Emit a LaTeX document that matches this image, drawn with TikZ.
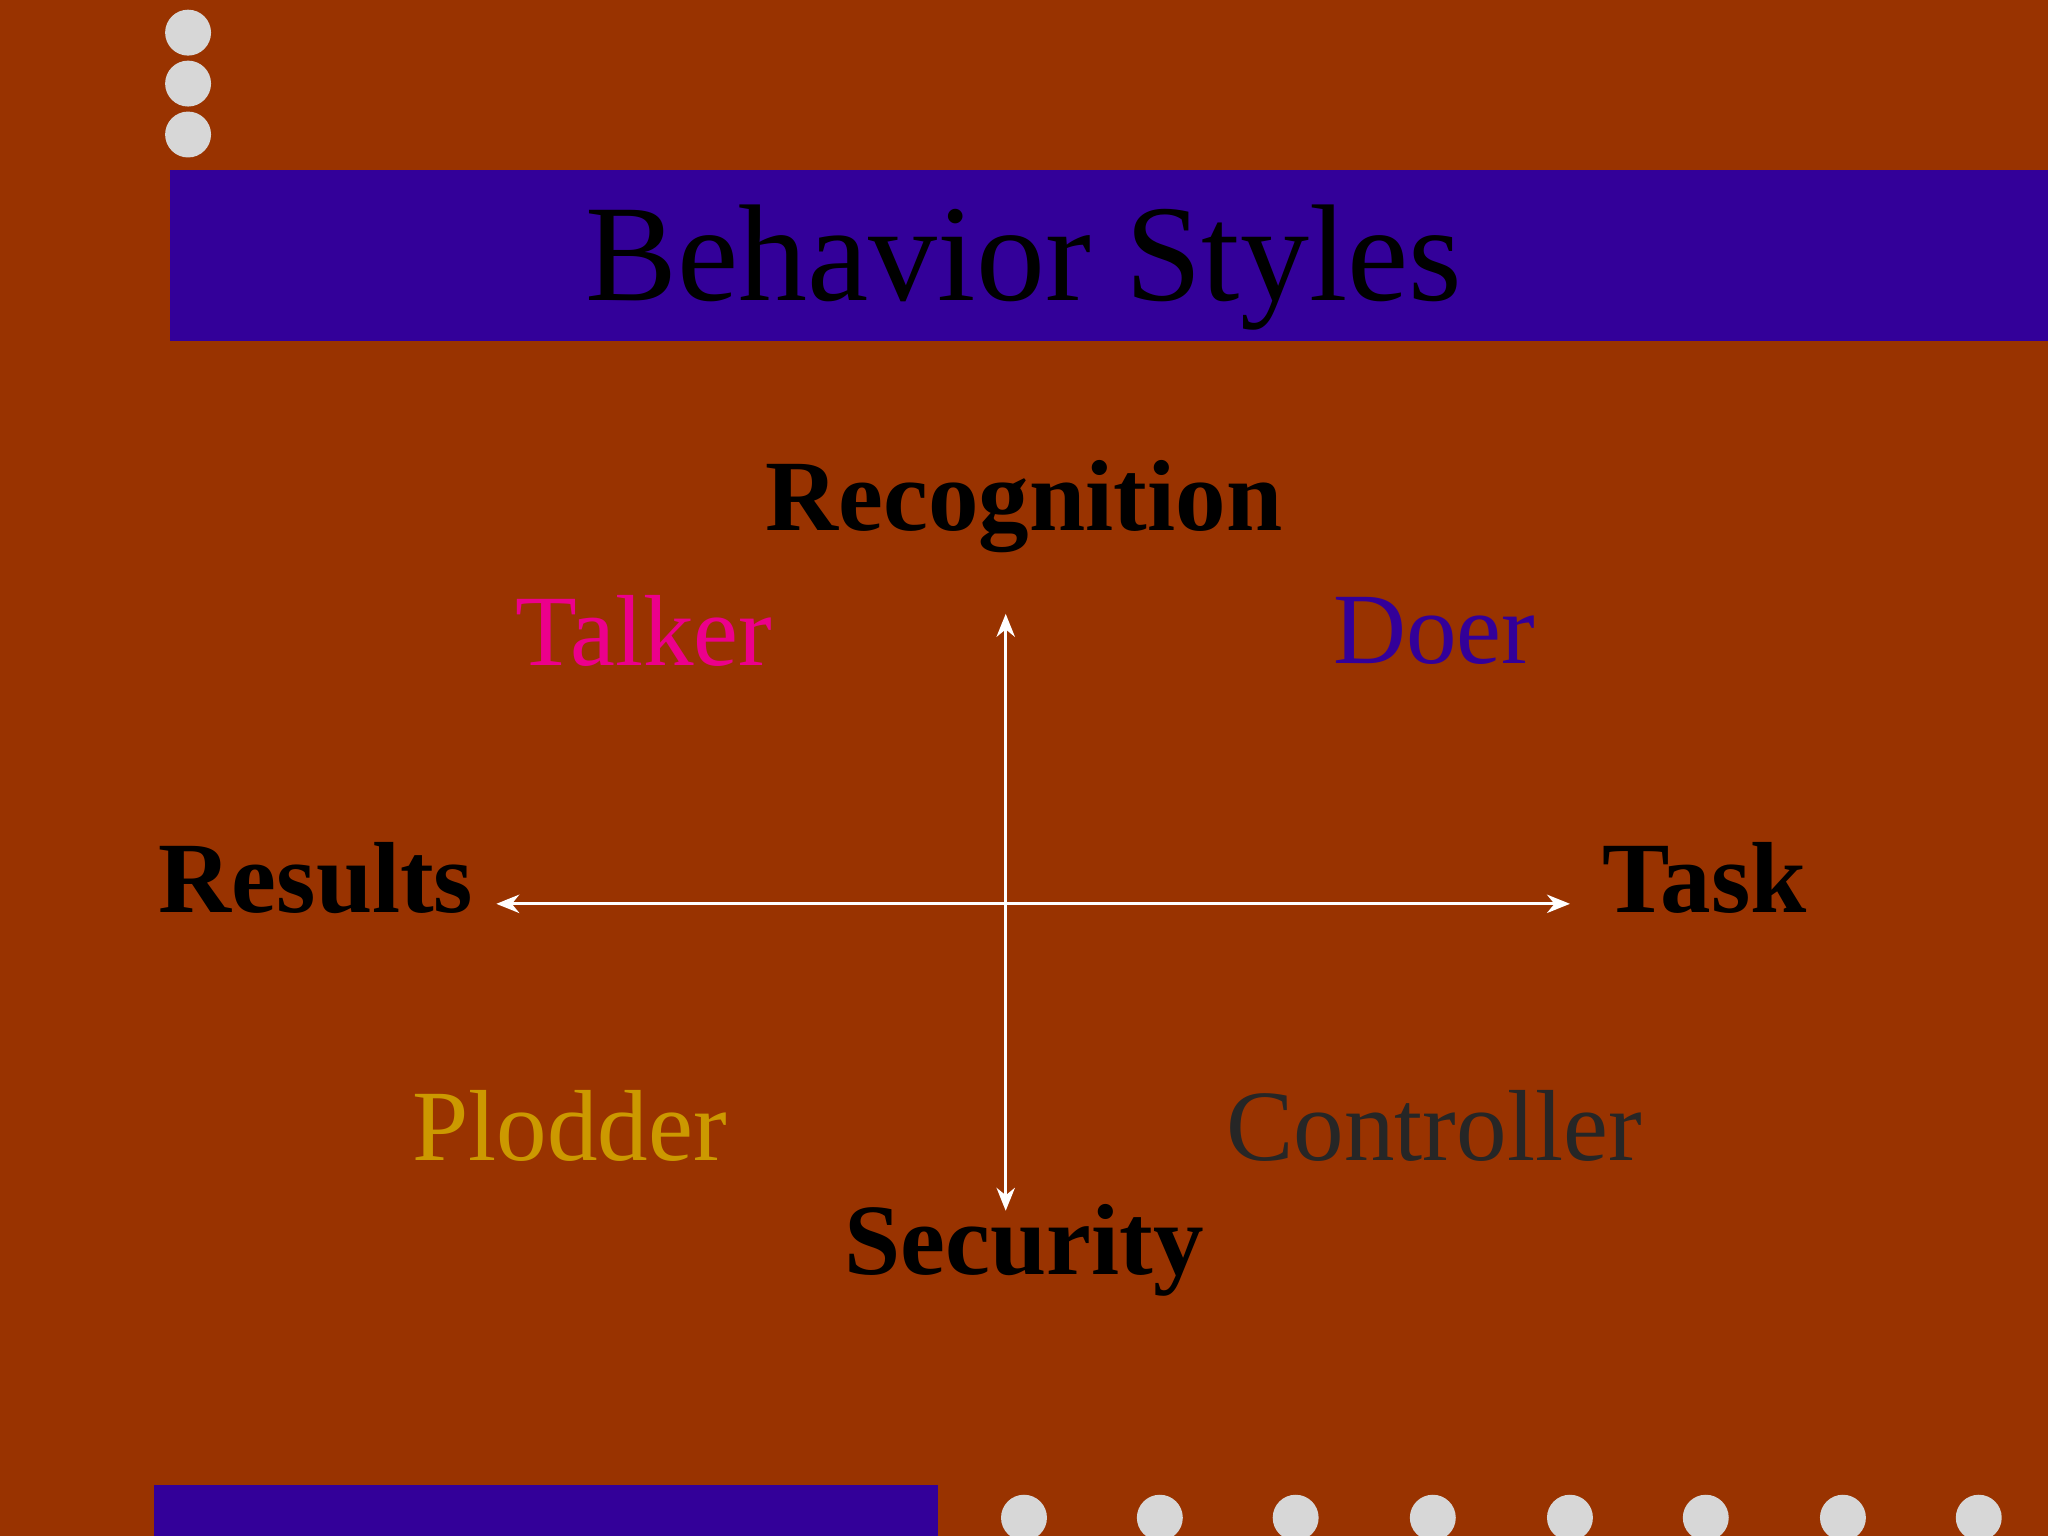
\documentclass[tikz,border=0pt]{standalone}
\usepackage{fontspec}
\setmainfont{Liberation Serif}
\usetikzlibrary{arrows.meta}
\definecolor{bg}{RGB}{153,51,0}
\definecolor{band}{RGB}{51,0,153}
\definecolor{dotc}{RGB}{215,215,215}
\definecolor{gold}{RGB}{204,153,0}
\begin{document}
\begin{tikzpicture}[x=0.01cm,y=-0.01cm,
  dotn/.style={circle,fill=dotc,inner sep=0pt,minimum size=10},
  axislab/.style={font=\fontsize{22pt}{24pt}\selectfont\bfseries,text=black},
  stylelab/.style={font=\fontsize{22pt}{24pt}\selectfont},
  axis/.style={draw=white,line width=0.6pt,{Stealth[length=5pt,width=4pt]}-{Stealth[length=5pt,width=4pt]}}]
\fill[bg] (0,0) rectangle (1568,1176);
\useasboundingbox (0,0) rectangle (1568,1176);
\foreach \y [count=\i] in {25,64,103} \node[dotn] (t\i) at (144,\y) {};
\fill[band] (130,130) rectangle (1568,261);
\node[font=\fontsize{30pt}{32pt}\selectfont,text=black] (title) at (784,205) {Behavior Styles};
\node[axislab] (rec) at (784,388) {Recognition};
\node[axislab] (res) at (242,672) {Results};
\node[axislab] (task) at (1305,672) {Task};
\node[axislab] (sec) at (784,957) {Security};
\node[stylelab,text=magenta] (talker) at (493,483) {Talker};
\node[stylelab,text=band] (doer) at (1098,483) {Doer};
\node[stylelab,text=gold] (plod) at (436,862) {Plodder};
\node[stylelab,text=black!85] (ctrl) at (1098,862) {Controller};
\coordinate (vt) at (770,470); \coordinate (vb) at (770,927);
\coordinate (hl) at (380,692); \coordinate (hr) at (1202,692);
\draw[axis] (vt) -- (vb);
\draw[axis] (hl) -- (hr);
\fill[band] (118,1137) rectangle (718,1176);
\foreach \x [count=\i] in {784,888,992,1097,1202,1306,1411,1515} \node[dotn] (b\i) at (\x,1162) {};
\end{tikzpicture}
\end{document}
